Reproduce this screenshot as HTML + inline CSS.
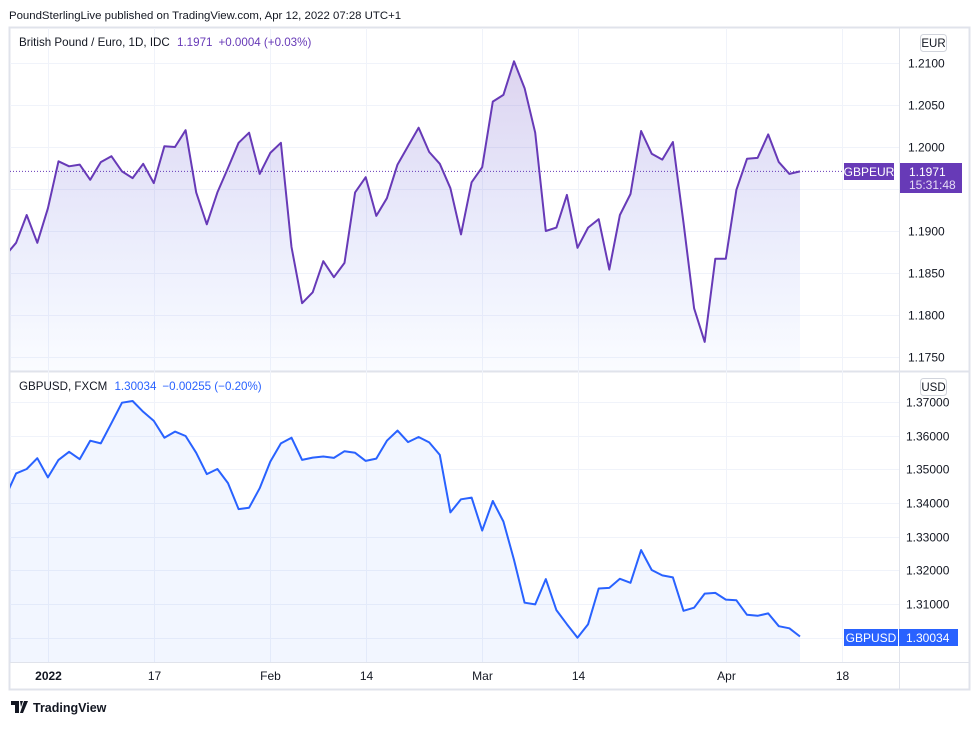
<!DOCTYPE html>
<html><head><meta charset="utf-8"><style>
body{margin:0;background:#fff;width:979px;height:725px;overflow:hidden;font-family:"Liberation Sans","DejaVu Sans",sans-serif;}
svg text{font-family:"Liberation Sans","DejaVu Sans",sans-serif;}
</style></head><body>
<svg id="c" width="979" height="725" xmlns="http://www.w3.org/2000/svg">
<defs>
<linearGradient id="gp" x1="0" y1="0" x2="0" y2="1"><stop offset="0" stop-color="#673ab7" stop-opacity="0.22"/><stop offset="1" stop-color="#2962ff" stop-opacity="0.02"/></linearGradient>
<clipPath id="cpt"><rect x="10" y="28" width="889" height="343"/></clipPath>
<clipPath id="cpb"><rect x="10" y="372" width="889" height="290"/></clipPath>
</defs>
<text x="9" y="19" font-size="11.4" fill="#131722">PoundSterlingLive published on TradingView.com, Apr 12, 2022 07:28 UTC+1</text>
<rect x="9.5" y="27.5" width="960" height="662" fill="none" stroke="#e0e3eb" stroke-width="2"/>
<line x1="10" y1="371.5" x2="969" y2="371.5" stroke="#e0e3eb" stroke-width="2"/>
<line x1="899.5" y1="28" x2="899.5" y2="689" stroke="#e0e3eb"/>
<line x1="10" y1="662.5" x2="969" y2="662.5" stroke="#e0e3eb"/>
<g id="grid"></g>
<g id="topPane" clip-path="url(#cpt)"></g>
<g id="botPane" clip-path="url(#cpb)"></g>
<g id="axes"></g>
<text x="19" y="46" font-size="11.6" fill="#131722">British Pound / Euro, 1D, IDC <tspan fill="#673ab7" dx="4">1.1971</tspan><tspan fill="#673ab7" dx="6">+0.0004 (+0.03%)</tspan></text>
<text x="19" y="390" font-size="11.6" fill="#131722">GBPUSD, FXCM <tspan fill="#2962ff" dx="4">1.30034</tspan><tspan fill="#2962ff" dx="6">−0.00255 (−0.20%)</tspan></text>
<rect x="920.5" y="34.5" width="26" height="17" rx="3" fill="#fff" stroke="#d1d4dc"/>
<text x="933.5" y="47" font-size="11.5" text-anchor="middle" fill="#131722">EUR</text>
<rect x="920.5" y="378.5" width="26" height="17" rx="3" fill="#fff" stroke="#d1d4dc"/>
<text x="933.5" y="391" font-size="11.5" text-anchor="middle" fill="#131722">USD</text>
<rect x="844" y="163" width="50" height="17" fill="#673ab7"/>
<text x="869" y="176" font-size="12" text-anchor="middle" fill="#fff">GBPEUR</text>
<rect x="900" y="163" width="62" height="30" fill="#673ab7"/>
<text x="909" y="176" font-size="12" fill="#fff">1.1971</text>
<text x="909" y="189" font-size="12" fill="#e6ddf5">15:31:48</text>
<rect x="844" y="629" width="54" height="17" fill="#2962ff"/>
<text x="871" y="642" font-size="12" text-anchor="middle" fill="#fff">GBPUSD</text>
<rect x="899" y="629" width="59" height="17" fill="#2962ff"/>
<text x="906" y="642" font-size="12" fill="#fff">1.30034</text>
<g>
<path d="M11 701h8v12h-4v-8h-4z M20 701h3l-2 6z M24 701h4l-5 12h-3z" fill="#131722"/>
<text x="33" y="712" font-size="12.5" font-weight="bold" fill="#131722">TradingView</text>
</g>
</svg>
<script>
const eurVals=[1.1871,1.1886,1.1919,1.1886,1.1927,1.1983,1.1977,1.1979,1.1961,1.1982,1.1989,1.1971,1.1963,1.1980,1.1957,1.2001,1.2000,1.2020,1.1946,1.1908,1.1946,1.1975,1.2005,1.2017,1.1968,1.1993,1.2005,1.1881,1.1814,1.1827,1.1864,1.1845,1.1862,1.1946,1.1964,1.1918,1.1939,1.1979,1.2001,1.2023,1.1994,1.1980,1.1951,1.1896,1.1958,1.1976,1.2054,1.2062,1.2102,1.2070,1.2017,1.1900,1.1904,1.1943,1.1880,1.1904,1.1914,1.1854,1.1919,1.1944,1.2019,1.1992,1.1985,1.2006,1.1910,1.1808,1.1768,1.1867,1.1867,1.1949,1.1986,1.1987,1.2015,1.1982,1.1968,1.1971];
const usdVals=[1.3419,1.3488,1.3501,1.3533,1.3476,1.3528,1.3552,1.3530,1.3585,1.3577,1.3637,1.3698,1.3703,1.3671,1.3644,1.3594,1.3612,1.3599,1.3549,1.3486,1.3501,1.3459,1.3382,1.3386,1.3444,1.3523,1.3577,1.3594,1.3528,1.3535,1.3538,1.3534,1.3554,1.3549,1.3525,1.3532,1.3585,1.3615,1.3581,1.3596,1.3580,1.3543,1.3372,1.3411,1.3416,1.3318,1.3406,1.3345,1.3231,1.3104,1.3099,1.3174,1.3082,1.3040,1.3000,1.3040,1.3146,1.3148,1.3175,1.3163,1.3260,1.3201,1.3185,1.3179,1.3080,1.3089,1.3131,1.3133,1.3113,1.3111,1.3068,1.3065,1.3072,1.3034,1.3028,1.30034];
const eurTicks=[1.2100,1.2050,1.2000,1.1950,1.1900,1.1850,1.1800,1.1750];
const eurTickLabels=["1.2100","1.2050","1.2000","","1.1900","1.1850","1.1800","1.1750"];
const usdTicks=[1.37,1.36,1.35,1.34,1.33,1.32,1.31,1.30];
const usdTickLabels=["1.37000","1.36000","1.35000","1.34000","1.33000","1.32000","1.31000",""];
const timeIdx=[4,14,25,34,45,54,68,79];
const timeLabels=["2022","17","Feb","14","Mar","14","Apr","18"];
const NS="http://www.w3.org/2000/svg";
const X=i=>5.5+i*(800-5.5)/75;
const YT=v=>63+(1.21-v)/0.005*42;
const YB=v=>402+(1.37-v)/0.01*33.67;
function mk(tag,attrs,parent){const e=document.createElementNS(NS,tag);for(const k in attrs)e.setAttribute(k,attrs[k]);parent.appendChild(e);return e;}
const grid=document.getElementById('grid'),axes=document.getElementById('axes');
eurTicks.forEach((t,i)=>{const y=Math.round(YT(t))+0.5;
 const l=mk('line',{x1:10,x2:899,y1:y,y2:y,stroke:'#f0f3fa'},grid);
 
 
 if(eurTickLabels[i]){const tx=mk('text',{x:908,y:y+4,'font-size':12,fill:'#131722'},axes);tx.textContent=eurTickLabels[i];
 
 }});
usdTicks.forEach((t,i)=>{const y=Math.round(YB(t))+0.5;
 const l=mk('line',{x1:10,x2:899,y1:y,y2:y,stroke:'#f0f3fa'},grid);
 
 
 if(usdTickLabels[i]){const tx=mk('text',{x:906,y:y+4,'font-size':12,fill:'#131722'},axes);tx.textContent=usdTickLabels[i];
 
 }});
timeIdx.forEach((d,i)=>{const x=Math.round(X(d))+0.5;
 const l=mk('line',{x1:x,x2:x,y1:28,y2:662,stroke:'#f0f3fa'},grid);
 
 
 const tx=mk('text',{x:x,y:680,'font-size':12,'text-anchor':'middle',fill:'#131722','font-weight':i==0?'bold':'normal'},axes);tx.textContent=timeLabels[i];
 
 });
function series(vals,Y,g,color,fill,bottom,name){
 const pts=vals.map((v,i)=>X(i).toFixed(1)+','+Y(v).toFixed(1));
 const a=mk('polygon',{points:pts.join(' ')+' '+X(vals.length-1)+','+bottom+' '+X(0)+','+bottom,fill:fill},g);
 
 
 const l=mk('polyline',{points:pts.join(' '),fill:'none',stroke:color,'stroke-width':2,'stroke-linejoin':'round'},g);
 
 
}
const topG=document.getElementById('topPane'),botG=document.getElementById('botPane');
series(eurVals,YT,topG,'#673ab7','url(#gp)',371,'gbpeur');
series(usdVals,YB,botG,'#2962ff','rgba(41,98,255,0.06)',662,'gbpusd');
const ly=YT(eurVals[eurVals.length-1]).toFixed(1);
const dl=mk('line',{x1:10,x2:844,y1:ly,y2:ly,stroke:'#673ab7','stroke-dasharray':'1 2'},topG);


</script>
</body></html>
